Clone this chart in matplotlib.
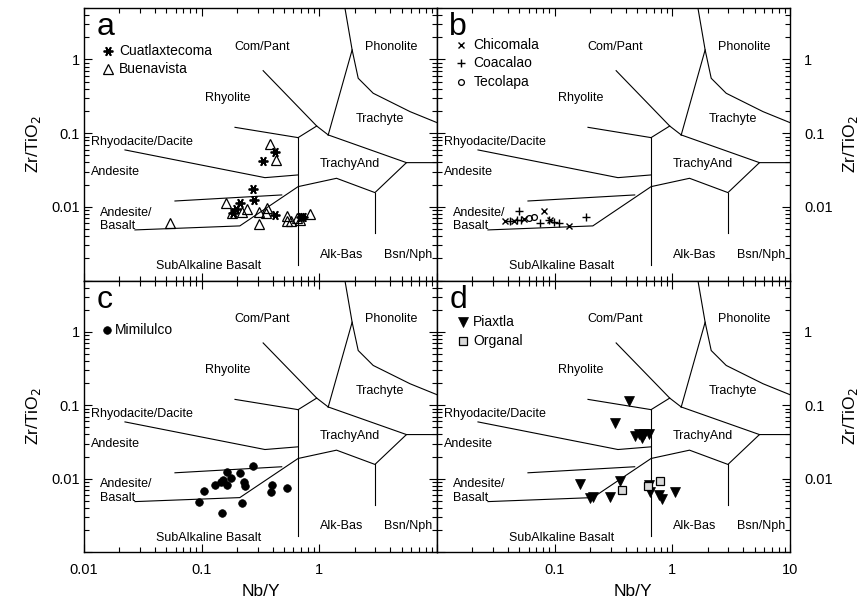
import matplotlib
matplotlib.use("Agg")
import matplotlib.pyplot as plt
from matplotlib.ticker import LogLocator, NullFormatter, FixedLocator, FixedFormatter

plt.rcParams['font.family'] = ['Liberation Sans', 'DejaVu Sans']

# ---- Winchester & Floyd (1977) field boundaries (Nb/Y, Zr/TiO2) ----
boundaries = [
    [(0.333, 0.705), (0.95, 0.125), (1.19, 0.0946)],
    [(0.66, 0.087), (0.95, 0.125)],
    [(0.66, 0.087), (0.66, 0.00163)],
    [(0.192, 0.120), (0.66, 0.087)],
    [(0.0223, 0.0592), (0.345, 0.0249), (0.66, 0.0271)],
    [(0.0593, 0.0120), (0.479, 0.0145)],
    [(0.0271, 0.00486), (0.211, 0.00551), (0.66, 0.0188), (1.40, 0.0244),
     (2.97, 0.0156), (5.5, 0.0398), (10.0, 0.0398)],
    [(1.19, 0.0946), (5.5, 0.0398)],
    [(2.97, 0.0156), (2.97, 0.00438)],
    [(1.65, 5.0), (1.9, 1.35), (1.19, 0.0946)],
    [(1.9, 1.35), (2.14, 0.556), (2.87, 0.348), (5.9, 0.196), (10.0, 0.139)],
]

field_names = ["Com/Pant", "Phonolite", "Rhyolite", "Trachyte", "Rhyodacite/Dacite",
               "Andesite", "TrachyAnd", "Andesite/\nBasalt", "Alk-Bas", "Bsn/Nph",
               "SubAlkaline Basalt"]
field_x = [0.325, 4.1, 0.168, 3.27, 0.0114, 0.0114, 1.82, 0.0137, 1.55, 5.7, 0.114]
field_y = [1.49, 1.49, 0.298, 0.155, 0.0767, 0.030, 0.0382, 0.00675, 0.00223, 0.00223, 0.00155]
field_ha = ["center", "center", "center", "center", "left", "left", "center", "left",
            "center", "center", "center"]

# ---- sample data (Nb/Y, Zr/TiO2) ----
cuat_nby = [0.420, 0.330, 0.275, 0.280, 0.211, 0.195, 0.183, 0.420, 0.693, 0.731]
cuat_zr = [0.0550, 0.0424, 0.0173, 0.0124, 0.0114, 0.00927, 0.00835, 0.00777, 0.00722, 0.00738]

buen_nby = [0.380, 0.425, 0.161, 0.241, 0.180, 0.219, 0.309, 0.357, 0.352, 0.535,
            0.527, 0.570, 0.641, 0.684, 0.832, 0.0538, 0.307]
buen_zr = [0.0714, 0.0433, 0.0112, 0.00927, 0.00818, 0.00861, 0.00861, 0.00957, 0.00818,
           0.00753, 0.00651, 0.00651, 0.00700, 0.00664, 0.00802, 0.00611, 0.00580]

chic_nby = [0.0381, 0.0448, 0.0552, 0.0805, 0.1315, 0.0918]
chic_zr = [0.00651, 0.00651, 0.00679, 0.00890, 0.00551, 0.00664]

coac_nby = [0.0494, 0.0420, 0.0478, 0.0518, 0.0755, 0.0889, 0.0980, 0.108, 0.186]
coac_zr = [0.00890, 0.00651, 0.00664, 0.00664, 0.00598, 0.00664, 0.00630, 0.00598, 0.00738]

teco_nby = [0.0601, 0.0671]
teco_zr = [0.00700, 0.00722]

mimi_nby = [0.275, 0.163, 0.211, 0.176, 0.153, 0.145, 0.130, 0.163, 0.229, 0.233,
            0.105, 0.0942, 0.148, 0.219, 0.393, 0.385, 0.527]
mimi_zr = [0.01466, 0.01216, 0.01191, 0.01019, 0.00968, 0.00890, 0.00827, 0.00819, 0.00890,
           0.00802, 0.00672, 0.00476, 0.00345, 0.00467, 0.00819, 0.00665, 0.00746]

piax_nby = [0.425, 0.324, 0.484, 0.516, 0.552, 0.578, 0.629, 0.165, 0.357, 0.198, 0.211,
            0.293, 0.629, 0.650, 0.764, 0.816, 1.06]
piax_zr = [0.114, 0.0568, 0.0383, 0.0403, 0.0363, 0.0403, 0.0411, 0.00845, 0.00937, 0.00540,
           0.00569, 0.00569, 0.00819, 0.00665, 0.00599, 0.00528, 0.00652]

orga_nby = [0.373, 0.616, 0.780]
orga_zr = [0.00700, 0.00802, 0.00937]

styles = {
    "Cuatlaxtecoma": dict(marker=(6, 2, 90), ms=7, mfc="black", mec="black", mew=1.3),
    "Buenavista": dict(marker="^", ms=6.5, mfc="none", mec="black", mew=0.9),
    "Chicomala": dict(marker="x", ms=4.5, mfc="none", mec="black", mew=1.0),
    "Coacalao": dict(marker="+", ms=6, mfc="none", mec="black", mew=1.0),
    "Tecolapa": dict(marker="o", ms=4.2, mfc="none", mec="black", mew=0.9),
    "Mimilulco": dict(marker="o", ms=5.5, mfc="black", mec="black", mew=0.5),
    "Piaxtla": dict(marker="v", ms=7, mfc="black", mec="black", mew=0.5),
    "Organal": dict(marker="s", ms=6, mfc="#d9d9d9", mec="black", mew=0.9),
}

panels = [
    ("a", [("Cuatlaxtecoma", cuat_nby, cuat_zr), ("Buenavista", buen_nby, buen_zr)],
     (0.068, 0.099), [0.843, 0.775]),
    ("b", [("Chicomala", chic_nby, chic_zr), ("Coacalao", coac_nby, coac_zr),
           ("Tecolapa", teco_nby, teco_zr)],
     (0.068, 0.104), [0.864, 0.797, 0.730]),
    ("c", [("Mimilulco", mimi_nby, mimi_zr)],
     (0.064, 0.088), [0.816]),
    ("d", [("Piaxtla", piax_nby, piax_zr), ("Organal", orga_nby, orga_zr)],
     (0.074, 0.102), [0.846, 0.779]),
]

W, H = 866, 607
fig = plt.figure(figsize=(W / 100, H / 100), dpi=100)

left_px, mid_px, right_px = 84, 437, 790
top_px, midy_px, bot_px = 8, 280.5, 552

def rect(x0, x1, y0, y1):
    return [x0 / W, 1 - y1 / H, (x1 - x0) / W, (y1 - y0) / H]

rects = [rect(left_px, mid_px, top_px, midy_px), rect(mid_px, right_px, top_px, midy_px),
         rect(left_px, mid_px, midy_px, bot_px), rect(mid_px, right_px, midy_px, bot_px)]

for i, (letter, series, (mx, tx), rows) in enumerate(panels):
    ax = fig.add_axes(rects[i])
    ax.set_xscale("log")
    ax.set_yscale("log")
    ax.set_xlim(0.01, 10)
    ax.set_ylim(0.001, 5)

    for seg in boundaries:
        xs = [p[0] for p in seg]
        ys = [p[1] for p in seg]
        ax.plot(xs, ys, color="black", lw=0.8, solid_joinstyle="miter", zorder=2)

    for name, fx, fy, ha in zip(field_names, field_x, field_y, field_ha):
        ax.text(fx, fy, name, ha=ha, va="center", fontsize=9, linespacing=1.15, zorder=3)

    for name, xs, ys in series:
        ax.plot(xs, ys, linestyle="none", zorder=4, **styles[name])

    # legend entries
    for (name, _, _), ry in zip(series, rows):
        ax.plot([mx], [ry], transform=ax.transAxes, linestyle="none", clip_on=False,
                **styles[name])
        ax.text(tx, ry, name, transform=ax.transAxes, fontsize=10, va="center", ha="left")

    ax.text(0.035, 0.93, letter, transform=ax.transAxes, fontsize=23, va="center", ha="left")

    for s in ax.spines.values():
        s.set_linewidth(1.0)

    ax.xaxis.set_minor_locator(LogLocator(base=10, subs=range(2, 10), numticks=20))
    ax.yaxis.set_minor_locator(LogLocator(base=10, subs=range(2, 10), numticks=20))
    ax.xaxis.set_minor_formatter(NullFormatter())
    ax.yaxis.set_minor_formatter(NullFormatter())
    ax.tick_params(which="both", direction="in", top=True, bottom=True, left=True, right=True,
                   width=0.8, labelsize=10.5)
    ax.tick_params(which="major", length=6)
    ax.tick_params(which="minor", length=3.5)

    is_left = i in (0, 2)
    is_bottom = i in (2, 3)

    ax.yaxis.set_major_locator(FixedLocator([0.001, 0.01, 0.1, 1]))
    ax.yaxis.set_major_formatter(FixedFormatter(["", "0.01", "0.1", "1"]))
    if is_left:
        ax.tick_params(axis="y", which="both", labelleft=True, labelright=False, pad=3)
        ax.set_ylabel("Zr/TiO$_2$", fontsize=12.5, labelpad=6)
    else:
        ax.tick_params(axis="y", which="both", labelleft=False, labelright=True, pad=10)
        ax.yaxis.set_label_position("right")
        ax.set_ylabel("Zr/TiO$_2$", fontsize=12.5, labelpad=6)

    ax.xaxis.set_major_locator(FixedLocator([0.01, 0.1, 1, 10]))
    if is_bottom:
        if is_left:
            ax.xaxis.set_major_formatter(FixedFormatter(["0.01", "0.1", "1", ""]))
        else:
            ax.xaxis.set_major_formatter(FixedFormatter(["", "0.1", "1", "10"]))
        ax.tick_params(axis="x", which="both", labelbottom=True, pad=8)
        ax.set_xlabel("Nb/Y", fontsize=12.5, labelpad=5)
        if not is_left:
            ax.xaxis.label.set_x(0.555)
    else:
        ax.tick_params(axis="x", which="both", labelbottom=False)

fig.savefig("out.png", dpi=100)
